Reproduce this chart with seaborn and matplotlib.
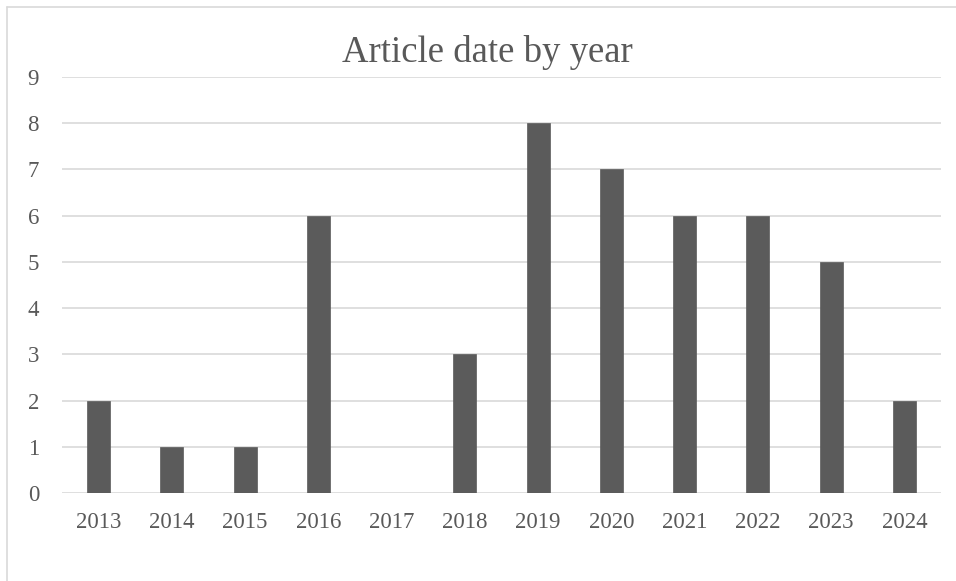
import matplotlib
matplotlib.use("Agg")
import matplotlib.pyplot as plt
import seaborn as sns
import pandas as pd
from matplotlib.lines import Line2D

years = ["2013", "2014", "2015", "2016", "2017", "2018", "2019", "2020", "2021", "2022", "2023", "2024"]
counts = [2, 1, 1, 6, 0, 3, 8, 7, 6, 6, 5, 2]
yticks = [0, 1, 2, 3, 4, 5, 6, 7, 8, 9]
title = "Article date by year"

sns.set_theme(style="white")
plt.rcParams['font.family'] = ['Liberation Serif', 'DejaVu Serif']

W, H = 956, 581
fig = plt.figure(figsize=(W / 100, H / 100), dpi=100)
ax = fig.add_axes([62 / W, 1 - 493 / H, (941 - 62) / W, (493 - 77) / H])

df = pd.DataFrame({"year": years, "count": counts})
sns.barplot(data=df, x="year", y="count", color="#5b5b5b", saturation=1,
            width=0.314, ax=ax, zorder=3, edgecolor="#5b5b5b", linewidth=0.5)

ax.set_ylim(0, 9)
ax.set_xlim(-0.5, len(years) - 0.5)
ax.set_yticks(yticks)
ax.set_yticklabels([str(v) for v in yticks])
for v in yticks:
    ax.axhline(v, color="#d9d9d9", lw=1.2, zorder=1)
for s in ax.spines.values():
    s.set_visible(False)
ax.set_xlabel("")
ax.set_ylabel("")
ax.tick_params(axis="y", length=0, pad=16.5, labelsize=16.5, labelcolor="#595959")
ax.tick_params(axis="x", length=0, pad=14, labelsize=16.5, labelcolor="#595959")

fig.text(487 / W, 1 - 62 / H, title, ha="center", va="baseline",
         fontsize=26.5, color="#595959")

# chart area border (top and left visible)
fig.add_artist(Line2D([7 / W, 7 / W], [0, 1 - 7 / H], color="#d9d9d9", lw=1.2,
                      transform=fig.transFigure))
fig.add_artist(Line2D([7 / W, 1], [1 - 7 / H, 1 - 7 / H], color="#d9d9d9", lw=1.2,
                      transform=fig.transFigure))

fig.savefig("out.png", dpi=100, facecolor="white")
